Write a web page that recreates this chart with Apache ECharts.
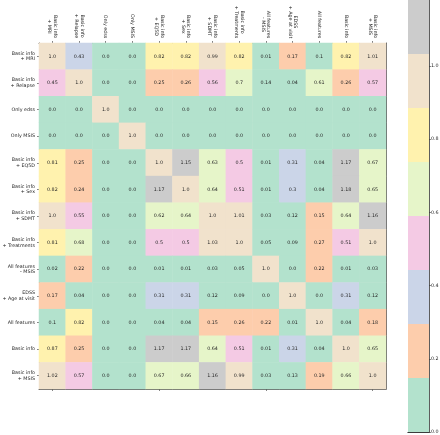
<!DOCTYPE html>
<html><head><meta charset="utf-8">
<script src="https://cdn.jsdelivr.net/npm/echarts@6/dist/echarts.min.js"></script>
<style>html,body{margin:0;padding:0;background:#fff}#c{width:440px;height:435px}</style>
</head><body><div id="c"></div>
<script>
// ---- data ----
const labels = [
  'Basic info\n+ MRI', 'Basic info\n+ Relapse', 'Only edss', 'Only MSIS',
  'Basic info\n+ EQ5D', 'Basic info\n+ Sex', 'Basic info\n+ SDMT', 'Basic info\n+ Treatments',
  'All features\n- MSIS', 'EDSS\n+ Age at visit', 'All features', 'Basic info', 'Basic info\n+ MSIS'
];
const rowMRI        = [1.0, 0.43, 0.0, 0.0, 0.82, 0.82, 0.99, 0.82, 0.01, 0.17, 0.1, 0.82, 1.01];
const rowRelapse    = [0.45, 1.0, 0.0, 0.0, 0.25, 0.26, 0.56, 0.7, 0.14, 0.04, 0.61, 0.26, 0.57];
const rowEdss       = [0.0, 0.0, 1.0, 0.0, 0.0, 0.0, 0.0, 0.0, 0.0, 0.0, 0.0, 0.0, 0.0];
const rowMSISonly   = [0.0, 0.0, 0.0, 1.0, 0.0, 0.0, 0.0, 0.0, 0.0, 0.0, 0.0, 0.0, 0.0];
const rowEQ5D       = [0.81, 0.25, 0.0, 0.0, 1.0, 1.15, 0.63, 0.5, 0.01, 0.31, 0.04, 1.17, 0.67];
const rowSex        = [0.82, 0.24, 0.0, 0.0, 1.17, 1.0, 0.64, 0.51, 0.01, 0.3, 0.04, 1.18, 0.65];
const rowSDMT       = [1.0, 0.55, 0.0, 0.0, 0.62, 0.64, 1.0, 1.01, 0.03, 0.12, 0.15, 0.64, 1.16];
const rowTreat      = [0.81, 0.68, 0.0, 0.0, 0.5, 0.5, 1.03, 1.0, 0.05, 0.09, 0.27, 0.51, 1.0];
const rowAllNoMSIS  = [0.02, 0.22, 0.0, 0.0, 0.01, 0.01, 0.03, 0.05, 1.0, 0.0, 0.22, 0.01, 0.03];
const rowEdssAge    = [0.17, 0.04, 0.0, 0.0, 0.31, 0.31, 0.12, 0.09, 0.0, 1.0, 0.0, 0.31, 0.12];
const rowAll        = [0.1, 0.82, 0.0, 0.0, 0.04, 0.04, 0.15, 0.26, 0.22, 0.01, 1.0, 0.04, 0.18];
const rowBasic      = [0.87, 0.25, 0.0, 0.0, 1.17, 1.17, 0.64, 0.51, 0.01, 0.31, 0.04, 1.0, 0.65];
const rowMSIS       = [1.02, 0.57, 0.0, 0.0, 0.67, 0.66, 1.16, 0.99, 0.03, 0.13, 0.19, 0.66, 1.0];
const rows = [rowMRI, rowRelapse, rowEdss, rowMSISonly, rowEQ5D, rowSex, rowSDMT, rowTreat,
              rowAllNoMSIS, rowEdssAge, rowAll, rowBasic, rowMSIS];
const colorbarTicks = [0, 0.2, 0.4, 0.6, 0.8, 1.0];
const vmin = 0, vmax = 1.18;
const palette = ['#b3e2cd','#fdcdac','#cbd5e8','#f4cae4','#e6f5c9','#fff2ae','#f1e2cc','#cccccc'];

// ---- build ----
const FS = 4.8, FONT = 'DejaVu Sans', TXT = '#262626';
const heatData = [];
rows.forEach((r, yi) => r.forEach((v, xi) => heatData.push([xi, yi, v])));
const step = (vmax - vmin) / palette.length;
const pieces = palette.map((c, k) => ({
  gte: vmin + k * step, lt: k === palette.length - 1 ? 100 : vmin + (k + 1) * step, color: c
}));
const fmt = v => { const s = String(v); return s.indexOf('.') < 0 ? s + '.0' : s; };

// rich styles so that rotated two-line labels are centred line-by-line
const cv = document.createElement('canvas').getContext('2d');
cv.font = FS + 'px "' + FONT + '"';
const rich = {};
labels.forEach((l, i) => {
  const w = Math.max(...l.split('\n').map(s => cv.measureText(s).width));
  rich['r' + i] = { width: Math.ceil(w) + 1, align: 'center', fontSize: FS, fontFamily: FONT, color: TXT, lineHeight: 5.6 };
});

const axLine = { show: true, lineStyle: { color: '#333', width: 0.8 } };
const tick = { show: true, alignWithLabel: true, length: 2, lineStyle: { color: '#333', width: 0.6 } };

const cbSeries = palette.map((c, k) => ({
  type: 'bar', stack: 'cb', xAxisIndex: 2, yAxisIndex: 2, data: [step],
  barWidth: '100%', itemStyle: { color: c }, silent: true, animation: false
}));

const chart = echarts.init(document.getElementById('c'), null, { renderer: 'canvas' });
chart.setOption({
  animation: false,
  backgroundColor: '#fff',
  textStyle: { fontFamily: FONT },
  grid: [
    { left: 39, top: 43, width: 347, height: 346, containLabel: false, outerBoundsMode: 'none' },
    { left: 408, top: 0, width: 21, height: 432, containLabel: false, outerBoundsMode: 'none' }
  ],
  xAxis: [
    { type: 'category', gridIndex: 0, data: labels, position: 'top', axisLine: axLine, axisTick: tick,
      splitLine: { show: false },
      axisLabel: { rotate: 90, margin: 4, interval: 0,
        formatter: (v, i) => v.split('\n').map(s => '{r' + i + '|' + s + '}').join('\n'), rich: rich } },
    { type: 'category', gridIndex: 0, data: labels, position: 'bottom', axisLine: axLine, axisTick: tick,
      axisLabel: { show: false }, splitLine: { show: false } },
    { type: 'category', gridIndex: 1, data: ['cb'], position: 'bottom', axisLine: axLine,
      axisTick: { show: false }, axisLabel: { show: false } },
    { type: 'category', gridIndex: 1, data: ['cb'], position: 'top', axisLine: axLine,
      axisTick: { show: false }, axisLabel: { show: false } }
  ],
  yAxis: [
    { type: 'category', gridIndex: 0, data: labels, inverse: true, axisLine: axLine, axisTick: tick,
      splitLine: { show: false },
      axisLabel: { interval: 0, margin: 4, fontSize: FS, fontFamily: FONT, color: TXT, lineHeight: 5.6, align: 'right' } },
    { type: 'category', gridIndex: 0, data: labels, inverse: true, position: 'right', axisLine: axLine,
      axisTick: { show: false }, axisLabel: { show: false }, splitLine: { show: false } },
    { type: 'value', gridIndex: 1, min: vmin, max: vmax, position: 'right', axisLine: axLine,
      splitLine: { show: false },
      axisTick: { show: true, length: 2, customValues: colorbarTicks, lineStyle: { color: '#333', width: 0.6 } },
      axisLabel: { customValues: colorbarTicks, margin: 2, fontSize: FS, fontFamily: FONT, color: TXT,
        formatter: v => v.toFixed(1) } },
    { type: 'value', gridIndex: 1, min: vmin, max: vmax, position: 'left', axisLine: axLine,
      axisTick: { show: false }, axisLabel: { show: false }, splitLine: { show: false } }
  ],
  visualMap: { type: 'piecewise', show: false, seriesIndex: 0, dimension: 2, pieces: pieces },
  series: [
    { type: 'heatmap', xAxisIndex: 0, yAxisIndex: 0, data: heatData,
      itemStyle: { borderWidth: 0 },
      label: { show: true, fontSize: FS, fontFamily: FONT, color: TXT, formatter: p => fmt(p.value[2]) },
      emphasis: { disabled: true } }
  ].concat(cbSeries)
});
</script>
</body></html>
